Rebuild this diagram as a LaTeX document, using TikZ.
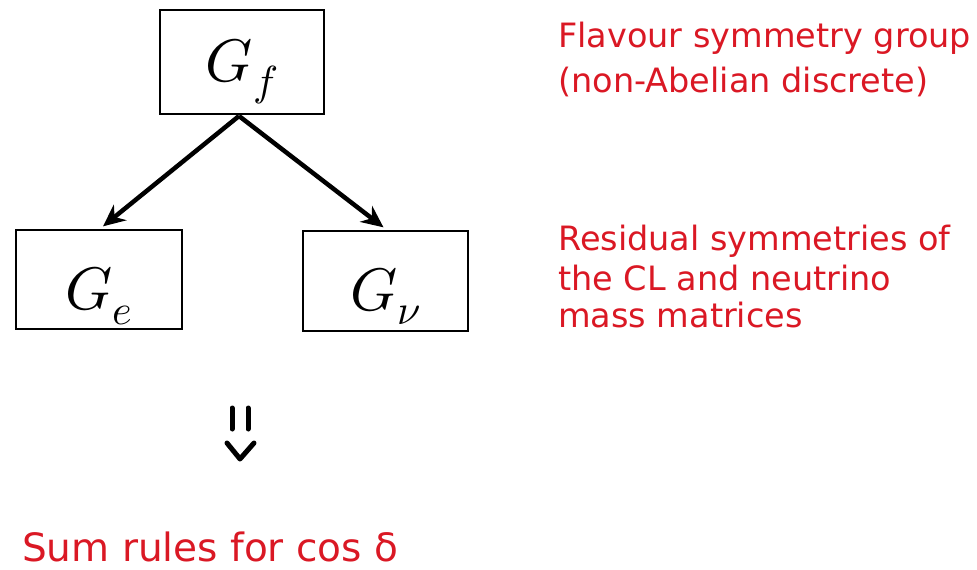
\documentclass[tikz,border=0pt]{standalone}
\usepackage{fontspec}
\usepackage{unicode-math}
\setsansfont{DejaVu Sans}
\usetikzlibrary{arrows.meta}
\definecolor{txtred}{RGB}{218,24,36}
\newcommand{\grpsym}[2]{\raisebox{#1}[0pt][0pt]{#2}}
\begin{document}
\begin{tikzpicture}[x=1pt,y=-1pt,
  grp/.style={draw=black,line width=1.3pt,inner sep=0pt,font=\fontsize{60}{60}\selectfont},
  arr/.style={line width=4.5pt,-{Stealth[length=22pt,width=20pt]}},
  note/.style={text=txtred,anchor=base west,inner sep=0pt,font=\sffamily\fontsize{33.5}{33.5}\selectfont},
  dbl/.style={line width=5pt,line cap=round,line join=round}]
\useasboundingbox (0,0) rectangle (977,570);
\node[grp,minimum width=164pt,minimum height=104pt] (gf) at (242,62) {\grpsym{-19pt}{$G_f$}};
\node[grp,minimum width=166pt,minimum height=99pt] (ge) at (99,279.5) {\grpsym{-30pt}{$G_e$}};
\node[grp,minimum width=165pt,minimum height=100pt] (gn) at (385.5,281) {\grpsym{-29pt}{$G_\nu$}};
\coordinate (top) at (239,116);
\draw[arr] (top) -- ([xshift=4pt,yshift=3pt]ge.north);
\draw[arr] (top) -- ([xshift=-2pt,yshift=3pt]gn.north);
\node[note] (n1) at (558,47) {Flavour symmetry group};
\node[note] (n2) at (558,92) {(non-Abelian discrete)};
\node[note] (r1) at (558,250) {Residual symmetries of};
\node[note] (r2) at (558,290) {the CL and neutrino};
\node[note] (r3) at (558,327) {mass matrices};
\coordinate (b1a) at (232,408); \coordinate (b1b) at (232,429);
\coordinate (b2a) at (248,408); \coordinate (b2b) at (248,429);
\coordinate (va) at (227,443); \coordinate (vb) at (240,459); \coordinate (vc) at (254,443);
\draw[dbl] (b1a) -- (b1b);
\draw[dbl] (b2a) -- (b2b);
\draw[dbl] (va) -- (vb) -- (vc);
\node[note,font=\sffamily\fontsize{39}{39}\selectfont] (sum) at (22,561) {Sum rules for cos δ};
\end{tikzpicture}
\end{document}
